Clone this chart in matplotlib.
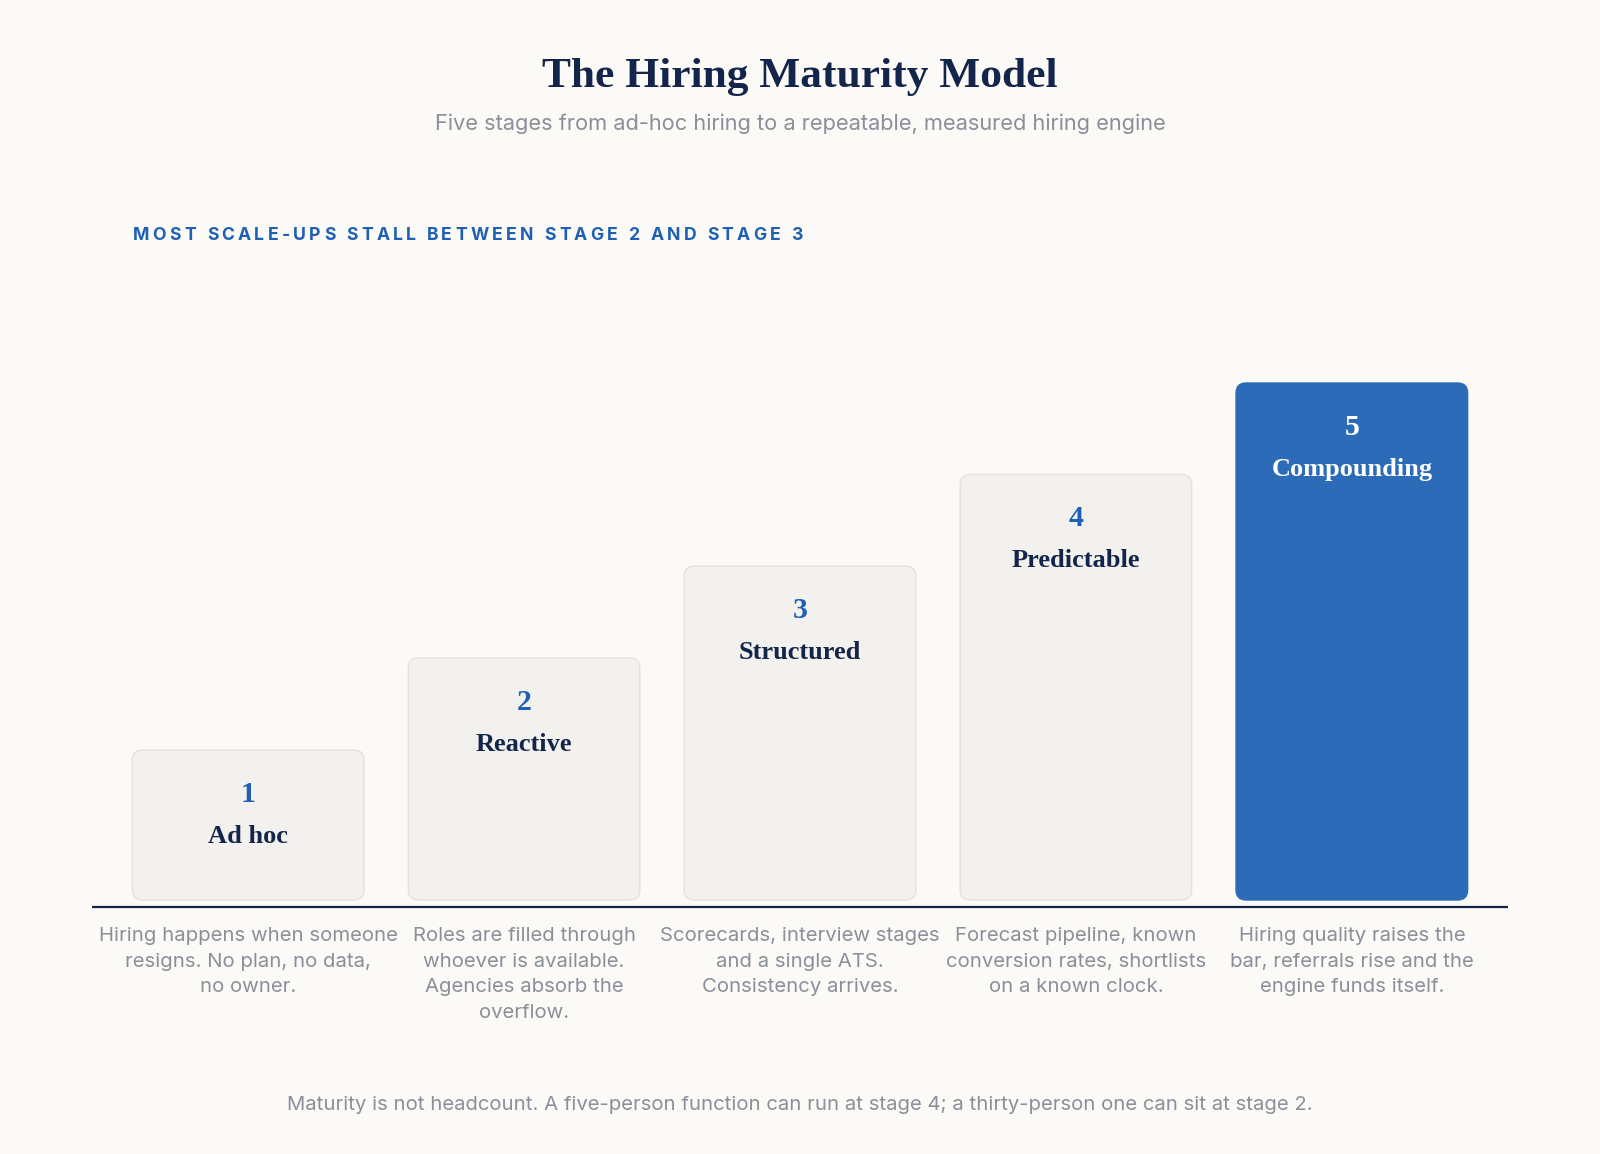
import matplotlib
matplotlib.use("Agg")
import matplotlib.pyplot as plt
from matplotlib.patches import FancyBboxPatch

stages = ["1", "2", "3", "4", "5"]
names = ["Ad hoc", "Reactive", "Structured", "Predictable", "Compounding"]
heights = [0.29, 0.468, 0.646, 0.823, 1.0]
notes = [
    "Hiring happens when someone\nresigns. No plan, no data,\nno owner.",
    "Roles are filled through\nwhoever is available.\nAgencies absorb the\noverflow.",
    "Scorecards, interview stages\nand a single ATS.\nConsistency arrives.",
    "Forecast pipeline, known\nconversion rates, shortlists\non a known clock.",
    "Hiring quality raises the\nbar, referrals rise and the\nengine funds itself.",
]
highlight = 4

title = "The Hiring Maturity Model"
subtitle = "Five stages from ad-hoc hiring to a repeatable, measured hiring engine"
callout = "MOST SCALE-UPS STALL BETWEEN STAGE 2 AND STAGE 3"
footer = ("Maturity is not headcount. A five-person function can run at stage 4; "
          "a thirty-person one can sit at stage 2.")

BG = "#fbfaf6"
NAVY = "#13254a"
BLUE = "#1f5fb4"
BAR_BLUE = "#2c6bb8"
BAR_GREY = "#f2f1ed"
EDGE = "#e5e3de"
GREY_TXT = "#8a8f99"
SERIF = ["Liberation Serif", "DejaVu Serif"]
SANS = ["Inter", "DejaVu Sans"]

W, H = 1600, 1154
fig = plt.figure(figsize=(16, 11.54), dpi=100, facecolor=BG)


def fx(px):
    return px / W


def fy(py):
    return 1 - py / H


# axes: x from 92 to 1508 px, y from baseline 907 px up to 300 px
base_px, top_px = 907, 300
left_px, right_px = 92, 1508
ax = fig.add_axes([fx(left_px), fy(base_px), fx(right_px - left_px), (base_px - top_px) / H])
ax.set_facecolor(BG)
unit = 517.0  # px per 1.0 of height
xl = (-0.566, 4.566)
ax.set_xlim(*xl)
ax.set_ylim(0, (base_px - top_px) / unit)
ax.axis("off")

xpx = (right_px - left_px) / (xl[1] - xl[0])  # px per x unit
asp = xpx / unit
bw = 231.6 / xpx
gap = 7 / unit
for i, h in enumerate(heights):
    color = BAR_BLUE if i == highlight else BAR_GREY
    edge = BAR_BLUE if i == highlight else EDGE
    p = FancyBboxPatch((i - bw / 2, gap), bw, h, boxstyle="round,pad=0,rounding_size=%f" % (10 / xpx),
                       mutation_aspect=asp, facecolor=color, edgecolor=edge, linewidth=1)
    ax.add_patch(p)
    top = gap + h
    numc = "white" if i == highlight else BLUE
    namec = "white" if i == highlight else NAVY
    ax.text(i, top - 44 / unit, stages[i], ha="center", va="center", fontsize=21.5,
            fontweight="bold", color=numc, family=SERIF)
    ax.text(i, top - 86 / unit, names[i], ha="center", va="center", fontsize=19,
            fontweight="bold", color=namec, family=SERIF)
    ax.text(i, -20 / unit, notes[i], ha="center", va="top", fontsize=14.65, color=GREY_TXT,
            family=SANS, linespacing=1.54, clip_on=False)

ax.plot(xl, [0, 0], color=NAVY, lw=1.6, clip_on=False, solid_capstyle="butt")

fig.text(0.5, fy(77), title, ha="center", va="center", fontsize=31.3, fontweight="bold",
         color=NAVY, family=SERIF)
fig.text(0.5, fy(124), subtitle, ha="center", va="center", fontsize=15.7, color=GREY_TXT,
         family=SANS)
fig.text(0.5, fy(1105.5), footer, ha="center", va="center", fontsize=14.6, color=GREY_TXT,
         family=SANS)

# letter-spaced callout
renderer = fig.canvas.get_renderer()
cs = 12.7
track = 3.3


def width(s):
    t = fig.text(0, 0, s, fontsize=cs, fontweight="bold", family=SANS)
    w = t.get_window_extent(renderer).width
    t.remove()
    return w


wx = width("X")
x0 = 133
for i, c in enumerate(callout):
    if c == " ":
        continue
    off = width(callout[:i] + "X") - wx if i else 0
    fig.text(fx(x0 + off + i * track), fy(235), c, ha="left", va="center", fontsize=cs,
             fontweight="bold", color=BLUE, family=SANS)

fig.savefig("out.png", dpi=100, facecolor=BG)
